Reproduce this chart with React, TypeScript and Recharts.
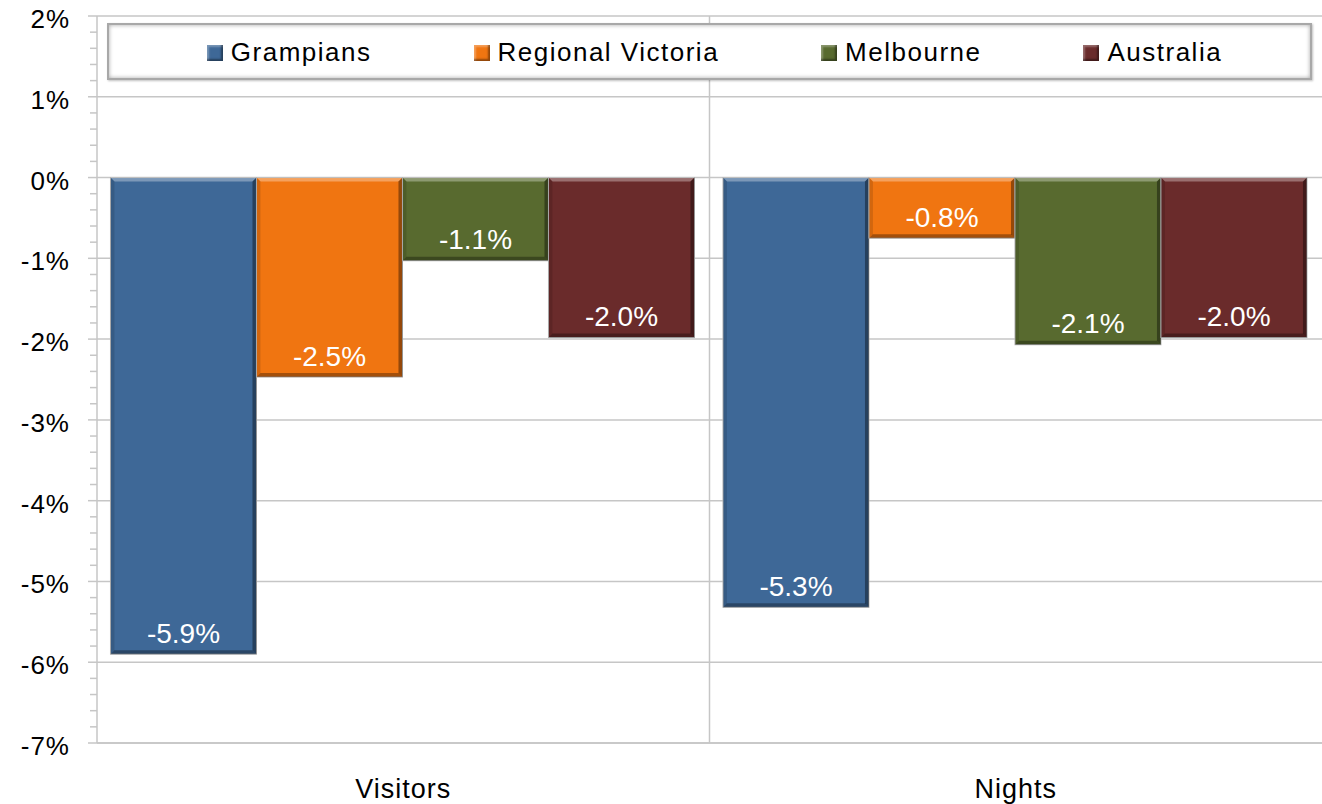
import { Bar, BarChart, CartesianGrid, XAxis, YAxis } from "recharts"

const CATEGORIES = ["Visitors", "Nights"]

const SERIES = [
  { key: "grampians", name: "Grampians", color: "#3e6897" },
  { key: "regional", name: "Regional Victoria", color: "#f07511" },
  { key: "melbourne", name: "Melbourne", color: "#586a2f" },
  { key: "australia", name: "Australia", color: "#6a2b2b" },
]

const GRAMPIANS = [-5.9, -5.32]
const REGIONAL = [-2.47, -0.75]
const MELBOURNE = [-1.03, -2.07]
const AUSTRALIA = [-1.98, -1.98]

const GRAMPIANS_LABELS = ["-5.9%", "-5.3%"]
const REGIONAL_LABELS = ["-2.5%", "-0.8%"]
const MELBOURNE_LABELS = ["-1.1%", "-2.1%"]
const AUSTRALIA_LABELS = ["-2.0%", "-2.0%"]

const MAJOR_TICKS = [2, 1, 0, -1, -2, -3, -4, -5, -6, -7]
const Y_MIN = -7
const Y_MAX = 2

const ALL_TICKS: number[] = []
MAJOR_TICKS.forEach((t) => {
  ALL_TICKS.push(t)
  if (t > Y_MIN) {
    for (let i = 1; i < 5; i++) ALL_TICKS.push(Math.round((t - i * 0.2) * 10) / 10)
  }
})

const data = CATEGORIES.map((name, i) => ({
  name,
  grampians: GRAMPIANS[i],
  regional: REGIONAL[i],
  melbourne: MELBOURNE[i],
  australia: AUSTRALIA[i],
  grampiansLabel: GRAMPIANS_LABELS[i],
  regionalLabel: REGIONAL_LABELS[i],
  melbourneLabel: MELBOURNE_LABELS[i],
  australiaLabel: AUSTRALIA_LABELS[i],
}))

const FONT = "'Liberation Sans', Arial, sans-serif"
const GRID = "#c6c6c6"

function BevelBar(props: any) {
  const { x, y, width, height, fill, label } = props
  const top = Math.min(y, y + height)
  const h = Math.abs(height)
  const w = width
  const b = 4
  return (
    <g>
      <rect x={x} y={top} width={w} height={h} fill={fill} stroke="#b5b5b5" strokeWidth={1} />
      <polygon
        points={`${x},${top} ${x + w},${top} ${x + w - b},${top + b} ${x + b},${top + b}`}
        fill="#ffffff"
        fillOpacity={0.32}
      />
      <polygon
        points={`${x},${top} ${x + b},${top + b} ${x + b},${top + h - b} ${x},${top + h}`}
        fill="#000000"
        fillOpacity={0.12}
      />
      <polygon
        points={`${x + w},${top} ${x + w},${top + h} ${x + w - b},${top + h - b} ${x + w - b},${top + b}`}
        fill="#000000"
        fillOpacity={0.38}
      />
      <polygon
        points={`${x},${top + h} ${x + w},${top + h} ${x + w - b},${top + h - b} ${x + b},${top + h - b}`}
        fill="#000000"
        fillOpacity={0.32}
      />
      <text
        x={x + w / 2}
        y={top + h - 21}
        textAnchor="middle"
        dominantBaseline="central"
        fill="#ffffff"
        fontSize={28}
        fontFamily={FONT}
      >
        {label}
      </text>
    </g>
  )
}

function YTick(props: any) {
  const { x, y, payload } = props
  const v = payload.value as number
  const major = Math.abs(v - Math.round(v)) < 1e-6
  return (
    <g>
      <line x1={x - (major ? 9 : 7)} x2={x} y1={y} y2={y} stroke={GRID} strokeWidth={1.5} />
      {major && (
        <text
          x={x - 27}
          y={y}
          dy={3}
          textAnchor="end"
          dominantBaseline="central"
          fontSize={26}
          letterSpacing={1}
          fontFamily={FONT}
          fill="#000"
        >
          {`${Math.round(v)}%`}
        </text>
      )}
    </g>
  )
}

function XTick(props: any) {
  const { x, y, payload } = props
  return (
    <text x={x} y={y + 55} textAnchor="middle" fontSize={27} letterSpacing={1} fontFamily={FONT} fill="#000">
      {payload.value}
    </text>
  )
}

function LegendBox() {
  return (
    <div
      style={{
        position: "absolute",
        left: 107,
        top: 23,
        width: 1205,
        height: 57,
        boxSizing: "border-box",
        border: "2px solid #a8a8a8",
        boxShadow: "inset 0 0 4px rgba(0,0,0,0.35), 1px 1px 2px rgba(0,0,0,0.25)",
        background: "#fff",
        display: "flex",
        alignItems: "center",
        justifyContent: "center",
        gap: 102,
        paddingLeft: 10,
        paddingTop: 2,
        fontFamily: FONT,
        fontSize: 26,
        letterSpacing: 1.5,
        color: "#000",
      }}
    >
      {SERIES.map((s) => (
        <div key={s.key} style={{ display: "flex", alignItems: "center" }}>
          <span
            style={{
              display: "inline-block",
              width: 16,
              height: 16,
              marginRight: 8,
              background: s.color,
              boxShadow: "inset -2px -2px 2px rgba(0,0,0,0.4), inset 2px 2px 2px rgba(255,255,255,0.3)",
            }}
          />
          <span>{s.name}</span>
        </div>
      ))}
    </div>
  )
}

export default function App() {
  return (
    <div style={{ position: "absolute", left: 0, top: 0, width: 1322, height: 804, background: "#fff" }}>
      <BarChart
        width={1322}
        height={804}
        data={data}
        margin={{ top: 16, right: 0, left: 0, bottom: 0 }}
        barGap={0}
        barCategoryGap="2.2%"
      >
        <CartesianGrid
          stroke={GRID}
          strokeWidth={1.5}
          horizontalCoordinatesGenerator={({ offset }: any) =>
            MAJOR_TICKS.map((t) => offset.top + ((Y_MAX - t) / (Y_MAX - Y_MIN)) * offset.height)
          }
          verticalCoordinatesGenerator={({ offset }: any) => [offset.left + offset.width / 2]}
        />
        <XAxis
          dataKey="name"
          height={61}
          tickLine={false}
          tickSize={0}
          tickMargin={0}
          axisLine={{ stroke: GRID, strokeWidth: 1.5 }}
          tick={<XTick />}
        />
        <YAxis
          width={97}
          domain={[Y_MIN, Y_MAX]}
          ticks={ALL_TICKS}
          interval={0}
          tickLine={false}
          tickSize={0}
          tickMargin={0}
          axisLine={{ stroke: GRID, strokeWidth: 1.5 }}
          tick={<YTick />}
        />
        {SERIES.map((s) => (
          <Bar
            key={s.key}
            dataKey={s.key}
            name={s.name}
            fill={s.color}
            isAnimationActive={false}
            shape={(p: any) => <BevelBar {...p} label={p.payload[`${s.key}Label`]} />}
          />
        ))}
      </BarChart>
      <LegendBox />
    </div>
  )
}
